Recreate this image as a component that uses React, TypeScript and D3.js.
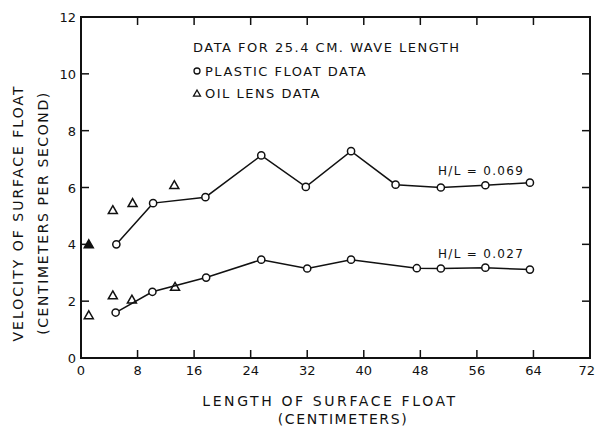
import { scaleLinear, line } from "d3";

// H/L = 0.069, plastic float
const lengthHigh = [5, 10.2, 17.6, 25.5, 31.8, 38.2, 44.5, 50.9, 57.2, 63.5];
const velocityHigh = [4.0, 5.45, 5.66, 7.13, 6.02, 7.28, 6.1, 6.0, 6.08, 6.17];

// H/L = 0.027, plastic float
const lengthLow = [4.9, 10.1, 17.7, 25.5, 32, 38.2, 47.5, 50.9, 57.2, 63.5];
const velocityLow = [1.6, 2.33, 2.83, 3.46, 3.15, 3.46, 3.16, 3.15, 3.18, 3.11];

// oil lens data
const oilLength = [1.1, 4.5, 7.3, 13.2, 1.1, 4.5, 7.2, 13.3];
const oilVelocity = [4.0, 5.2, 5.45, 6.08, 1.5, 2.2, 2.05, 2.5];
const oilFilled = [true, false, false, false, false, false, false, false];

const xTicks = [0, 8, 16, 24, 32, 40, 48, 56, 64, 72];
const yTicks = [0, 2, 4, 6, 8, 10, 12];

const font = "'DejaVu Sans', sans-serif";

export default function App() {
  const x = scaleLinear().domain([0, 72]).range([81, 590]);
  const y = scaleLinear().domain([0, 12]).range([358, 17]);

  const path = line<[number, number]>()
    .x((d) => x(d[0]))
    .y((d) => y(d[1]));

  const high = lengthHigh.map((l, i) => [l, velocityHigh[i]] as [number, number]);
  const low = lengthLow.map((l, i) => [l, velocityLow[i]] as [number, number]);

  const tri = (cx: number, cy: number, s = 4.5) =>
    `M${cx},${cy - s} L${cx + s},${cy + s * 0.75} L${cx - s},${cy + s * 0.75} Z`;

  const inner = xTicks.slice(1, -1);
  const innerY = yTicks.slice(1, -1);

  return (
    <svg
      width={596}
      height={427}
      style={{ position: "absolute", left: 0, top: 0, background: "#fff" }}
    >
      {/* frame */}
      <rect x={81} y={17} width={509} height={341} fill="none" stroke="#111" strokeWidth={2} />

      {/* ticks */}
      {inner.map((t) => (
        <g key={"xt" + t} stroke="#111" strokeWidth={1.5}>
          <line x1={x(t)} x2={x(t)} y1={358} y2={350} />
          <line x1={x(t)} x2={x(t)} y1={17} y2={25} />
        </g>
      ))}
      {innerY.map((t) => (
        <g key={"yt" + t} stroke="#111" strokeWidth={1.5}>
          <line x1={81} x2={89} y1={y(t)} y2={y(t)} />
          <line x1={590} x2={582} y1={y(t)} y2={y(t)} />
        </g>
      ))}

      {/* tick labels */}
      {xTicks.map((t, i) => (
        <text
          key={"xl" + t}
          x={i === xTicks.length - 1 ? 595 : x(t)}
          y={375}
          textAnchor={i === xTicks.length - 1 ? "end" : "middle"}
          fontFamily={font}
          fontSize={13}
          fill="#111"
        >
          {t}
        </text>
      ))}
      {yTicks.map((t) => (
        <text
          key={"yl" + t}
          x={76}
          y={y(t) + 5}
          textAnchor="end"
          fontFamily={font}
          fontSize={13}
          fill="#111"
        >
          {t}
        </text>
      ))}

      {/* axis titles */}
      <text
        x={330}
        y={406}
        textAnchor="middle"
        fontFamily={font}
        fontSize={14}
        letterSpacing={2.6}
        fill="#111"
      >
        LENGTH OF SURFACE FLOAT
      </text>
      <text
        x={343}
        y={424}
        textAnchor="middle"
        fontFamily={font}
        fontSize={14}
        letterSpacing={1.6}
        fill="#111"
      >
        (CENTIMETERS)
      </text>
      <text
        transform="translate(23,213) rotate(-90)"
        textAnchor="middle"
        fontFamily={font}
        fontSize={14}
        letterSpacing={2}
        fill="#111"
      >
        VELOCITY OF SURFACE FLOAT
      </text>
      <text
        transform="translate(48,213) rotate(-90)"
        textAnchor="middle"
        fontFamily={font}
        fontSize={14}
        letterSpacing={1.6}
        fill="#111"
      >
        (CENTIMETERS PER SECOND)
      </text>

      {/* legend */}
      <text x={193} y={52} fontFamily={font} fontSize={13} letterSpacing={1.5} fill="#111">
        DATA FOR 25.4 CM. WAVE LENGTH
      </text>
      <circle cx={197} cy={71} r={3} fill="none" stroke="#111" strokeWidth={1.3} />
      <text x={205} y={76} fontFamily={font} fontSize={13} letterSpacing={1.5} fill="#111">
        PLASTIC FLOAT DATA
      </text>
      <path d={tri(197, 93.5, 3.5)} fill="none" stroke="#111" strokeWidth={1.3} />
      <text x={205} y={98} fontFamily={font} fontSize={13} letterSpacing={1.5} fill="#111">
        OIL LENS DATA
      </text>

      {/* series lines */}
      <path d={path(high) ?? ""} fill="none" stroke="#111" strokeWidth={1.5} />
      <path d={path(low) ?? ""} fill="none" stroke="#111" strokeWidth={1.5} />

      {high.concat(low).map((d, i) => (
        <circle
          key={"c" + i}
          cx={x(d[0])}
          cy={y(d[1])}
          r={3.6}
          fill="#fff"
          stroke="#111"
          strokeWidth={1.5}
        />
      ))}

      {oilLength.map((l, i) => (
        <path
          key={"o" + i}
          d={tri(x(l), y(oilVelocity[i]))}
          fill={oilFilled[i] ? "#111" : "none"}
          stroke="#111"
          strokeWidth={1.5}
        />
      ))}

      {/* H/L labels */}
      <text x={438} y={175} fontFamily={font} fontSize={12} letterSpacing={1.3} fill="#111">
        H/L = 0.069
      </text>
      <text x={438} y={258} fontFamily={font} fontSize={12} letterSpacing={1.3} fill="#111">
        H/L = 0.027
      </text>
    </svg>
  );
}
